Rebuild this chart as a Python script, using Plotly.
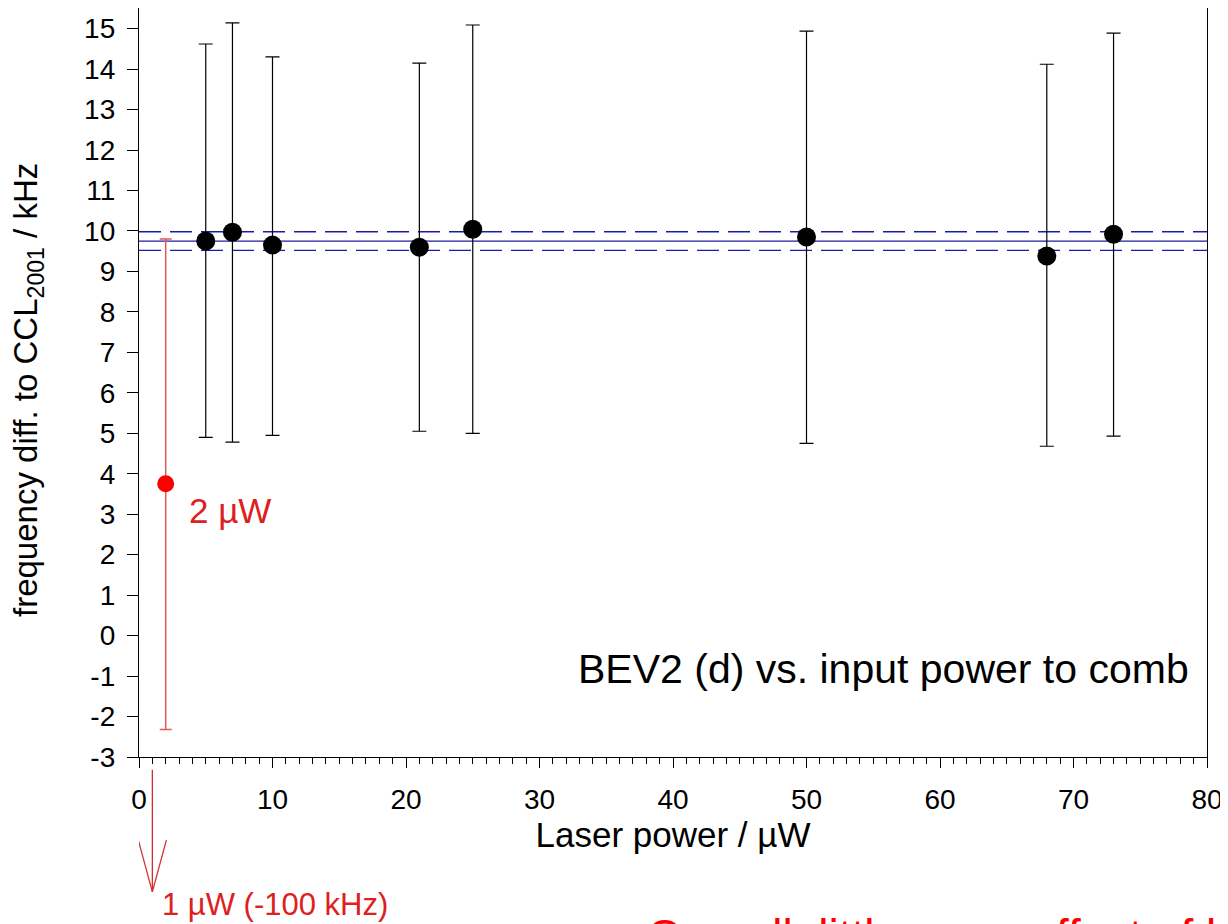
import plotly.graph_objects as go

# --- data ---
power_uW = [5, 7, 10, 21, 25, 50, 68, 73]
freq_kHz = [9.75, 9.97, 9.65, 9.60, 10.04, 9.85, 9.38, 9.92]
err_hi = [14.62, 15.14, 14.30, 14.15, 15.09, 14.94, 14.12, 14.89]
err_lo = [4.90, 4.78, 4.95, 5.05, 5.00, 4.75, 4.68, 4.93]

red_power = [2]
red_freq = [3.75]
red_hi = [9.80]
red_lo = [-2.32]

mean_val = 9.75
mean_band = [9.52, 9.98]
x_span = [0, 80]

arrow_x = 1  # 1 uW point, off-scale (-100 kHz)

y_ticks = list(range(-3, 16))
y_ticktext = [str(v) for v in y_ticks]  # plain hyphen-minus like the original

FONT = "Arial, Liberation Sans, sans-serif"

fig = go.Figure()

# mean and uncertainty band lines
fig.add_trace(go.Scatter(x=x_span, y=[mean_val] * 2, mode="lines",
                         line=dict(color="#1c1ca0", width=1.4), hoverinfo="skip"))
for b in mean_band:
    fig.add_trace(go.Scatter(x=x_span, y=[b] * 2, mode="lines",
                             line=dict(color="#1c1ca0", width=1.4, dash="22px,9px"),
                             hoverinfo="skip"))

# red 2 uW point
fig.add_trace(go.Scatter(
    x=red_power, y=red_freq, mode="markers",
    marker=dict(color="#ff0000", size=17),
    error_y=dict(type="data", symmetric=False,
                 array=[h - v for h, v in zip(red_hi, red_freq)],
                 arrayminus=[v - l for l, v in zip(red_lo, red_freq)],
                 color="#e05a5a", thickness=1.5, width=6),
))

# black points
fig.add_trace(go.Scatter(
    x=power_uW, y=freq_kHz, mode="markers",
    marker=dict(color="black", size=19),
    error_y=dict(type="data", symmetric=False,
                 array=[h - v for h, v in zip(err_hi, freq_kHz)],
                 arrayminus=[v - l for l, v in zip(err_lo, freq_kHz)],
                 color="black", thickness=1.2, width=7),
))

# arrow for 1 uW (off scale)
arrow_col = "#d03030"
fig.add_shape(type="line", xref="x", yref="paper", x0=arrow_x, x1=arrow_x,
              y0=-0.017, y1=-0.180, line=dict(color=arrow_col, width=1.3))
fig.add_shape(type="line", xref="x", yref="paper", x0=arrow_x - 1.05, x1=arrow_x,
              y0=-0.111, y1=-0.180, line=dict(color=arrow_col, width=1.3))
fig.add_shape(type="line", xref="x", yref="paper", x0=arrow_x + 1.05, x1=arrow_x,
              y0=-0.111, y1=-0.180, line=dict(color=arrow_col, width=1.3))

fig.add_annotation(x=0.0197, y=-0.197, xref="paper", yref="paper", xanchor="left",
                   yanchor="middle", text="1 µW (-100 kHz)", showarrow=False,
                   font=dict(family=FONT, size=31, color="#dd2020"))
fig.add_annotation(x=3.6, y=3.1, xref="x", yref="y", xanchor="left", yanchor="middle",
                   text="2 µW", showarrow=False,
                   font=dict(family=FONT, size=35, color="#dd2020"))
fig.add_annotation(x=0.985, y=0.117, xref="paper", yref="paper", xanchor="right",
                   yanchor="middle", text="BEV2 (d) vs. input power to comb",
                   showarrow=False, font=dict(family=FONT, size=41, color="black"))
# y-axis title (placed as rotated annotation to match position)
fig.add_annotation(x=-0.1039, y=0.49, xref="paper", yref="paper", xanchor="center",
                   yanchor="middle", textangle=-90,
                   text="frequency diff. to CCL<sub>2001</sub> / kHz",
                   showarrow=False, font=dict(family=FONT, size=33, color="black"))
# clipped red comment at the very bottom of the slide
fig.add_annotation(x=0.474, y=-0.2016, xref="paper", yref="paper", xanchor="left",
                   yanchor="top", text="Overall, little or no effect of laser power",
                   showarrow=False, font=dict(family=FONT, size=46, color="#ff0000"))

fig.update_layout(
    width=1228, height=924,
    margin=dict(l=131, r=29, t=0, b=175),
    paper_bgcolor="white", plot_bgcolor="white",
    showlegend=False,
    font=dict(family=FONT, size=28, color="black"),
    xaxis=dict(range=[0, 80], tickmode="linear", tick0=0, dtick=10,
               ticks="outside", ticklen=10, tickwidth=1.3, tickcolor="black",
               minor=dict(dtick=1, ticks="outside", ticklen=6, tickwidth=1, tickcolor="black"),
               showline=True, linecolor="black", linewidth=1.3, mirror=True,
               showgrid=False, zeroline=False, ticklabelstandoff=7,
               title=dict(text="Laser power / µW", font=dict(size=35), standoff=3)),
    yaxis=dict(range=[-3, 15.51], tickmode="array", tickvals=y_ticks, ticktext=y_ticktext,
               ticks="outside", ticklen=11, tickwidth=1.3, tickcolor="black",
               showline=True, linecolor="black", linewidth=1.3, mirror=True,
               showgrid=False, zeroline=False, ticklabelstandoff=6),
)

fig.write_html("out.html")
